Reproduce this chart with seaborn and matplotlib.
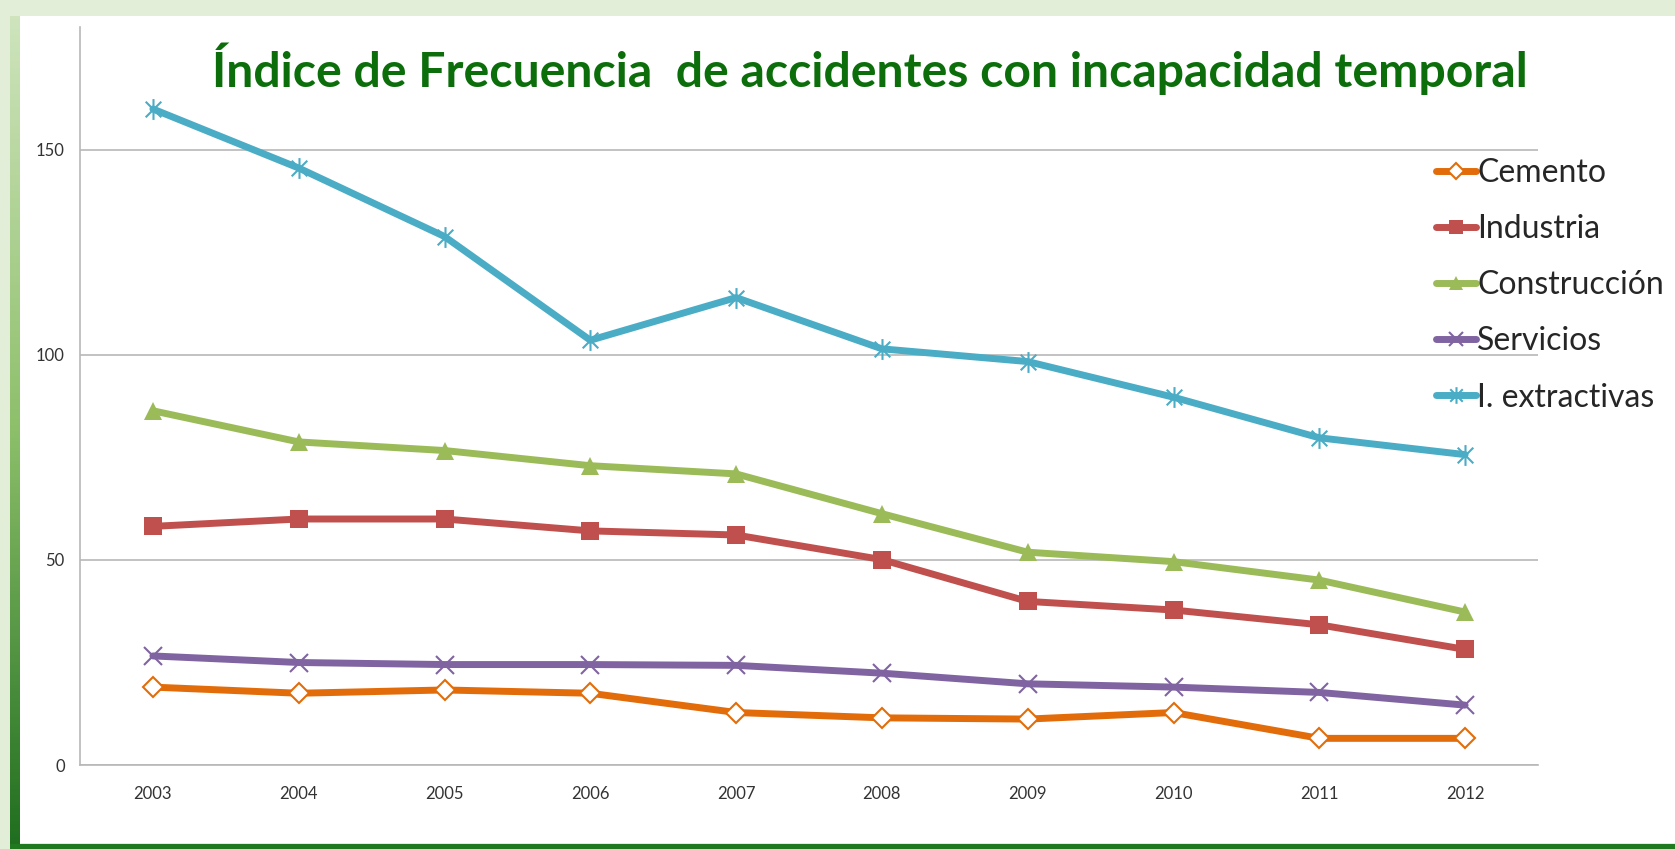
import numpy as np
import pandas as pd
import matplotlib
matplotlib.use("Agg")
import matplotlib.pyplot as plt
from matplotlib.patches import Rectangle
from matplotlib.lines import Line2D
from matplotlib.path import Path
from matplotlib.colors import LinearSegmentedColormap
import seaborn as sns

years = [2003, 2004, 2005, 2006, 2007, 2008, 2009, 2010, 2011, 2012]
cemento = [19.0, 17.5, 18.3, 17.5, 12.8, 11.5, 11.2, 12.8, 6.5, 6.5]
industria = [58.2, 60.0, 60.0, 57.1, 56.1, 50.1, 39.9, 37.8, 34.2, 28.2]
construccion = [86.4, 78.8, 76.7, 73.0, 71.0, 61.3, 51.9, 49.6, 45.1, 37.3]
servicios = [26.6, 25.0, 24.5, 24.5, 24.3, 22.4, 19.8, 19.0, 17.7, 14.6]
extractivas = [160.0, 145.6, 128.9, 103.6, 114.0, 101.5, 98.4, 89.7, 79.8, 75.7]
series_names = ["Cemento", "Industria", "Construcción", "Servicios", "I. extractivas"]
yticks = [0, 50, 100, 150]
title = "Índice de Frecuencia  de accidentes con incapacidad temporal"

colors = {"Cemento": "#E36C0A", "Industria": "#C0504D", "Construcción": "#9BBB59",
          "Servicios": "#8064A2", "I. extractivas": "#4BACC6"}
star = Path([(0, -1), (0, 1), (-0.75, -0.75), (0.75, 0.75), (-0.75, 0.75), (0.75, -0.75)],
            [Path.MOVETO, Path.LINETO, Path.MOVETO, Path.LINETO, Path.MOVETO, Path.LINETO])
styles = {
    "Cemento": dict(marker="D", markersize=10, markerfacecolor="white", markeredgewidth=1.5),
    "Industria": dict(marker="s", markersize=13, markeredgewidth=0),
    "Construcción": dict(marker="^", markersize=13, markeredgewidth=0),
    "Servicios": dict(marker="x", markersize=13, markeredgewidth=1.5),
    "I. extractivas": dict(marker=star, markersize=15, markeredgewidth=1.5, markerfacecolor="none"),
}

df = pd.DataFrame({"year": years * 5,
                   "serie": sum([[n] * len(years) for n in series_names], []),
                   "valor": cemento + industria + construccion + servicios + extractivas})

sns.set_style("white")
plt.rcParams["font.family"] = ["Lato", "DejaVu Sans"]

W, H = 1675, 849
fig = plt.figure(figsize=(W / 100, H / 100), dpi=100)
fig.patch.set_facecolor("#e2eed8")

# slide panel (background decoration)
bg = fig.add_axes([0, 0, 1, 1], zorder=-5)
bg.axis("off")
bg.add_patch(Rectangle((20, 16), W - 20, H - 22, facecolor="white", edgecolor="none"))
bg.add_patch(Rectangle((10, H - 5), W - 10, 5, facecolor="#1f7a1f", edgecolor="none"))
grad = np.linspace(0, 1, 256).reshape(-1, 1)
cm = LinearSegmentedColormap.from_list("g", ["#cfe4bd", "#8dbf6a", "#1f6e1f"])
bg.imshow(grad, aspect="auto", cmap=cm, extent=[10, 20, H - 2, 16], origin="upper")
bg.set_xlim(0, W)
bg.set_ylim(H, 0)

ax = fig.add_axes([80 / W, (H - 765) / H, (1538 - 80) / W, (765 - 27) / H], zorder=2)
ax.set_facecolor("none")
for name in series_names:
    sub = df[df["serie"] == name]
    sns.lineplot(data=sub, x="year", y="valor", ax=ax, color=colors[name], linewidth=5,
                 markeredgecolor=colors[name], label=name, legend=False, **styles[name])

ax.set_xlim(2002.5, 2012.5)
ax.set_ylim(0, 180)
ax.set_yticks(yticks)
ax.set_xticks(years)
ax.set_xticklabels([str(y) for y in years])
ax.yaxis.grid(True, color="#b8b8b8", linewidth=1.2)
ax.xaxis.grid(False)
ax.set_axisbelow(True)
for s in ["top", "right"]:
    ax.spines[s].set_visible(False)
for s in ["left", "bottom"]:
    ax.spines[s].set_color("#b8b8b8")
    ax.spines[s].set_linewidth(1.2)
ax.tick_params(axis="both", length=0, labelsize=12, colors="#333333")
ax.tick_params(axis="x", pad=15)
ax.tick_params(axis="y", pad=11)
ax.set_xlabel("")
ax.set_ylabel("")

fig.text(870 / W, 1 - 69 / H, title, ha="center", va="center", fontsize=34.7, fontweight="bold",
         color="#0b6e0b")

handles = [Line2D([], [], color=colors[n], linewidth=5, markeredgecolor=colors[n],
                  **{**styles[n], "markersize": styles[n]["markersize"] * 0.8}) for n in series_names]
fig.legend(handles, series_names, loc="upper left", bbox_to_anchor=(1423 / W, 1 - 145 / H),
           frameon=False, fontsize=23, handlelength=1.25, handletextpad=0.05, labelspacing=0.82,
           borderaxespad=0)

fig.savefig("out.png", dpi=100, facecolor=fig.get_facecolor())
